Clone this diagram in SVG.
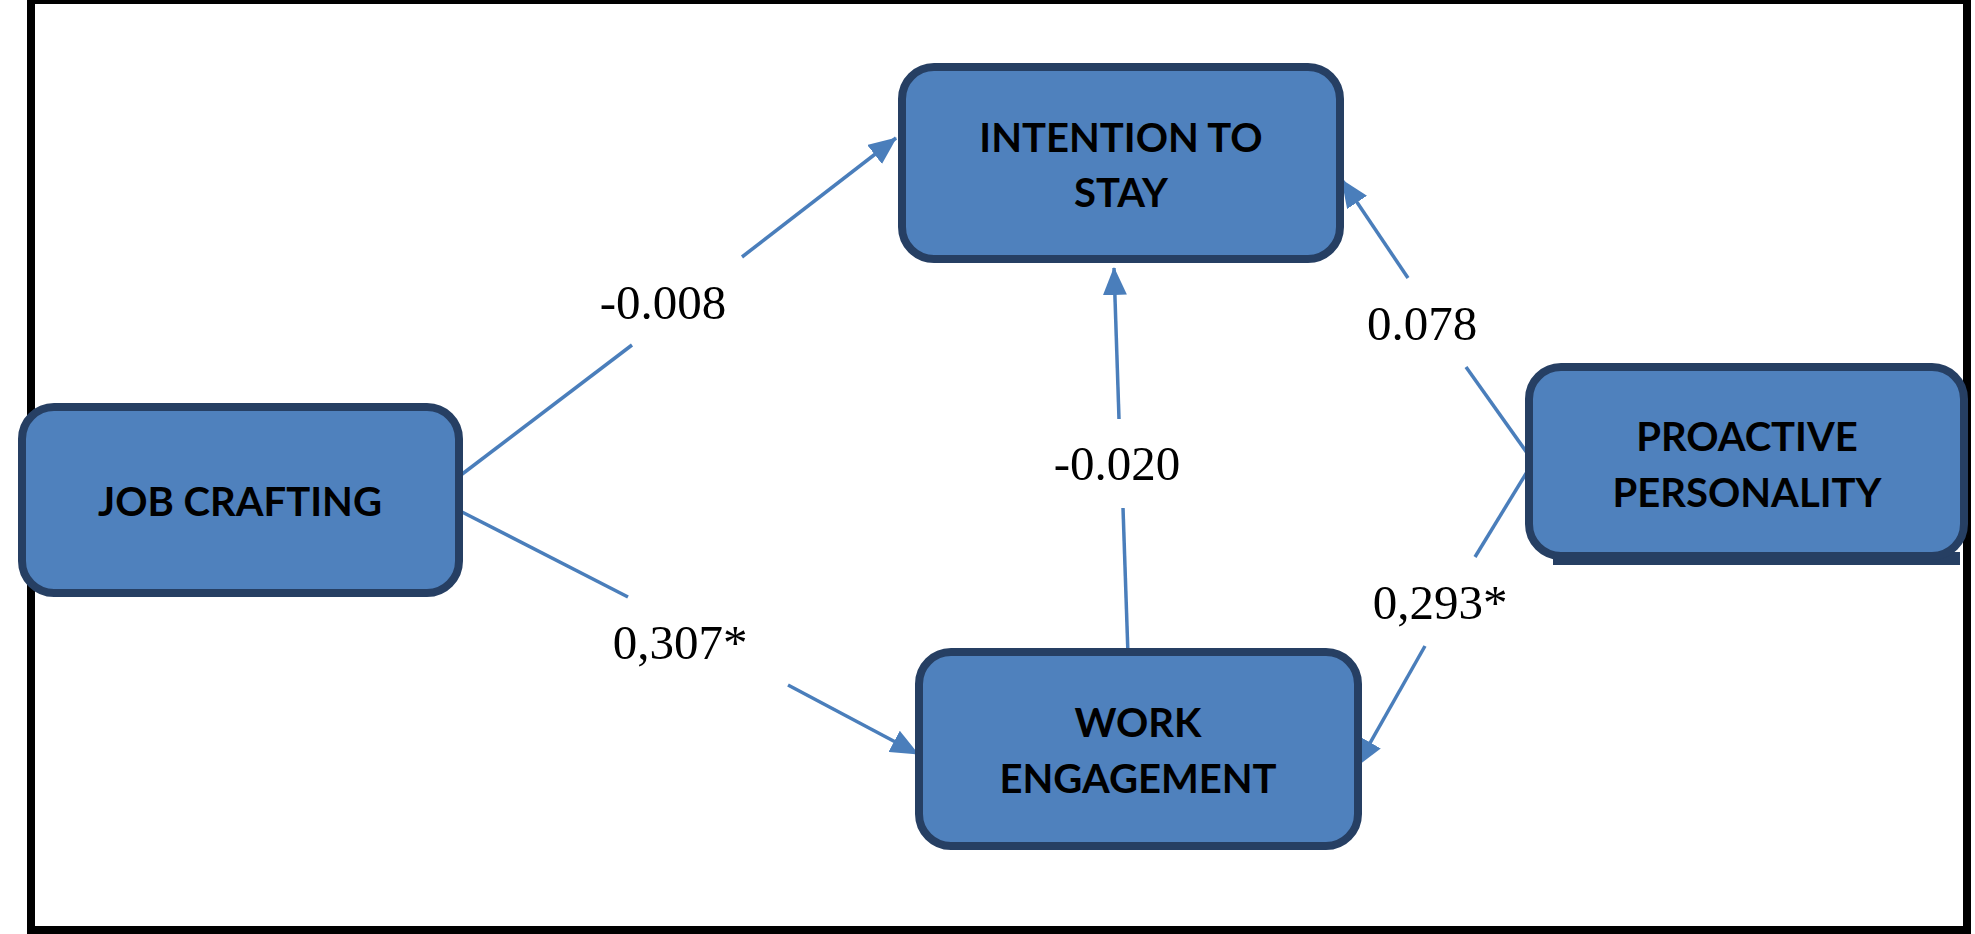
<svg xmlns="http://www.w3.org/2000/svg" width="1975" height="934" viewBox="0 0 1975 934">
  <style>
    .box { fill: #4f81bd; stroke: #263f63; stroke-width: 8; }
    .shadow { fill: #263f63; }
    .nodetext { font-family: Lato, "Liberation Sans", sans-serif; font-weight: bold; font-size: 40px; fill: #000; text-anchor: middle; }
    .conn { stroke: #4a7ebb; stroke-width: 3.5; fill: none; }
    .label { font-family: "Liberation Serif", "Times New Roman", serif; font-size: 49px; fill: #000; text-anchor: middle; }
  </style>
  <defs>
    <marker id="arrow" markerUnits="userSpaceOnUse" markerWidth="28" markerHeight="24" refX="27" refY="12" orient="auto">
      <path d="M0,0 L28,12 L0,24 z" fill="#4a7ebb"/>
    </marker>
  </defs>

  <rect x="31" y="0" width="1936" height="930" fill="#fff" stroke="#000" stroke-width="8"/>

  <g id="connectors">
    <line class="conn" x1="457" y1="478" x2="632" y2="345"/>
    <line class="conn" x1="742" y1="257" x2="896" y2="138" marker-end="url(#arrow)"/>
    <line class="conn" x1="462" y1="512" x2="628" y2="597"/>
    <line class="conn" x1="788" y1="685" x2="918" y2="754" marker-end="url(#arrow)"/>
    <line class="conn" x1="1128" y1="655" x2="1123" y2="508"/>
    <line class="conn" x1="1119" y1="419" x2="1114" y2="268" marker-end="url(#arrow)"/>
    <line class="conn" x1="1530" y1="457" x2="1466" y2="367"/>
    <line class="conn" x1="1408" y1="278" x2="1342" y2="180" marker-end="url(#arrow)"/>
    <line class="conn" x1="1530" y1="467" x2="1475" y2="557"/>
    <line class="conn" x1="1425" y1="646" x2="1357" y2="766" marker-end="url(#arrow)"/>
  </g>

  <g id="labels">
    <text class="label" x="663" y="319">-0.008</text>
    <text class="label" x="680" y="659">0,307*</text>
    <text class="label" x="1117" y="480">-0.020</text>
    <text class="label" x="1422" y="340">0.078</text>
    <text class="label" x="1440" y="619">0,293*</text>
  </g>

  <g id="node-intention">
    <rect class="box" x="902" y="67" width="438" height="192" rx="32"/>
    <text class="nodetext" x="1121" y="152">INTENTION TO</text>
    <text class="nodetext" x="1121" y="207">STAY</text>
  </g>

  <g id="node-jobcrafting">
    <rect class="box" x="22" y="407" width="437" height="186" rx="32"/>
    <text class="nodetext" x="240" y="516">JOB CRAFTING</text>
  </g>

  <g id="node-proactive">
    <rect class="shadow" x="1553" y="552" width="407" height="13"/>
    <rect class="box" x="1529" y="367" width="435" height="189" rx="32"/>
    <text class="nodetext" x="1747" y="451">PROACTIVE</text>
    <text class="nodetext" x="1747" y="507">PERSONALITY</text>
  </g>

  <g id="node-work">
    <rect class="box" x="919" y="652" width="439" height="194" rx="32"/>
    <text class="nodetext" x="1138" y="737">WORK</text>
    <text class="nodetext" x="1138" y="793">ENGAGEMENT</text>
  </g>
</svg>
